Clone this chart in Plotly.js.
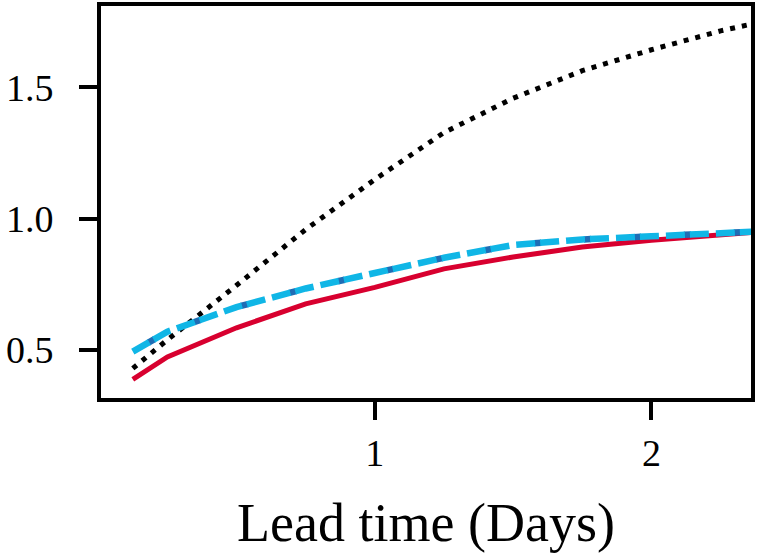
<!DOCTYPE html>
<html>
<head>
<meta charset="utf-8">
<script src="https://cdn.plot.ly/plotly-3.0.1.min.js"></script>
<style>html,body{margin:0;padding:0;background:#fff;}#chart{width:761px;height:555px;}</style>
</head>
<body>
<div id="chart"></div>
<script>
// Lead time in days
var leadDays = [0.125, 0.25, 0.5, 0.75, 1.0, 1.25, 1.5, 1.75, 2.0, 2.25, 2.375];
// Series values
var redValues   = [0.386, 0.472, 0.583, 0.674, 0.737, 0.808, 0.853, 0.891, 0.917, 0.939, 0.948];
var cyanValues  = [0.492, 0.568, 0.662, 0.733, 0.792, 0.850, 0.899, 0.920, 0.932, 0.944, 0.950];
var blueValues  = [0.492, 0.568, 0.662, 0.733, 0.792, 0.850, 0.899, 0.920, 0.932, 0.944, 0.950];
var blackValues = [0.428, 0.537, 0.745, 0.958, 1.149, 1.328, 1.459, 1.564, 1.644, 1.716, 1.745];
var xTickVals = [1, 2];
var xTickText = ['1', '2'];
var yTickVals = [0.5, 1.0, 1.5];
var yTickText = ['0.5', '1.0', '1.5'];

var traces = [
  {x: leadDays, y: blackValues, mode: 'lines', line: {color: '#000000', width: 5, dash: '5px,7px'}},
  {x: leadDays, y: redValues, mode: 'lines', line: {color: '#d8002f', width: 5}},
  {x: leadDays, y: blueValues, mode: 'lines', line: {color: '#1f6db5', width: 6.5, dash: '0px,18px,7px,25px'}},
  {x: leadDays, y: cyanValues, mode: 'lines', line: {color: '#10b6e6', width: 6.5, dash: '19px,5px,19px,7px'}}
];

var fontFam = '"Liberation Serif", "Times New Roman", serif';
var layout = {
  width: 761, height: 555,
  margin: {l: 101, r: 10, t: 6, b: 157, pad: 0},
  paper_bgcolor: '#ffffff', plot_bgcolor: '#ffffff',
  showlegend: false,
  font: {family: fontFam, color: '#000000'},
  xaxis: {
    range: [0.01, 2.36],
    tickvals: xTickVals, ticktext: xTickText,
    ticks: 'outside', ticklen: 18, tickwidth: 4, tickcolor: '#000',
    showline: true, linewidth: 4, linecolor: '#000', mirror: true,
    showgrid: false, zeroline: false,
    tickfont: {family: fontFam, size: 38, color: '#000'},
    ticklabelstandoff: 0,
    title: {text: 'Lead time (Days)', font: {family: fontFam, size: 54, color: '#000'}, standoff: 32}
  },
  yaxis: {
    range: [0.315, 1.811],
    tickvals: yTickVals, ticktext: yTickText,
    ticks: 'outside', ticklen: 18, tickwidth: 4, tickcolor: '#000',
    showline: true, linewidth: 4, linecolor: '#000', mirror: true,
    showgrid: false, zeroline: false,
    tickfont: {family: fontFam, size: 38, color: '#000'},
    ticklabelstandoff: 18
  }
};

Plotly.newPlot('chart', traces, layout, {displayModeBar: false, staticPlot: true});
</script>
</body>
</html>
